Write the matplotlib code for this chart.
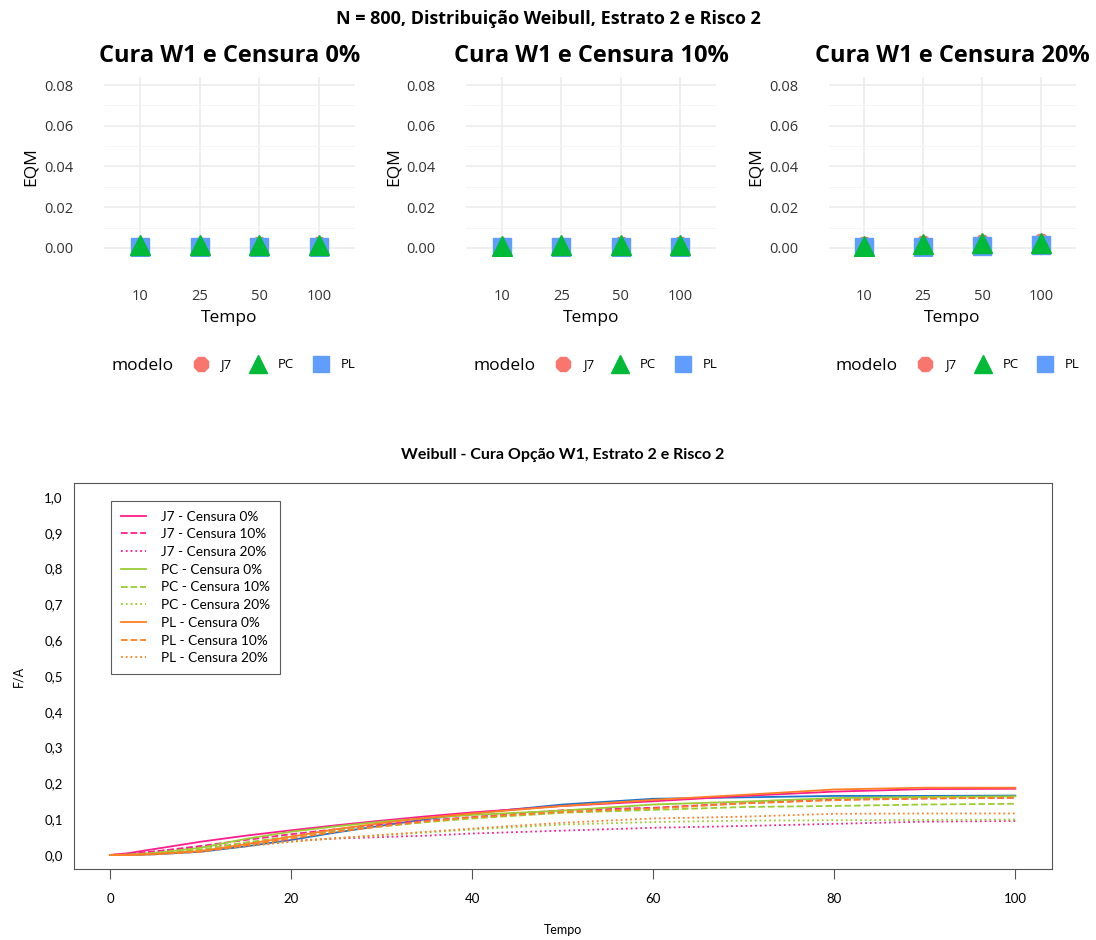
import numpy as np
import matplotlib.pyplot as plt
from matplotlib.lines import Line2D

# ------------------------------------------------------
# Data: EQM por tempo (painéis superiores)
# ------------------------------------------------------
tempos_cat = ["10", "25", "50", "100"]
modelos = ["J7", "PC", "PL"]
censuras = ["0%", "10%", "20%"]

eqm_j7 = [[0.0008, 0.0010, 0.0012, 0.0014],
          [0.0008, 0.0011, 0.0013, 0.0015],
          [0.0012, 0.0018, 0.0024, 0.0030]]
eqm_pc = [[0.0012, 0.0014, 0.0013, 0.0015],
          [0.0010, 0.0013, 0.0014, 0.0016],
          [0.0011, 0.0020, 0.0022, 0.0025]]
eqm_pl = [[0.0003, 0.0004, 0.0005, 0.0006],
          [0.0003, 0.0004, 0.0005, 0.0006],
          [0.0004, 0.0006, 0.0009, 0.0012]]

# ------------------------------------------------------
# Data: F/A ao longo do tempo (painel inferior)
# ------------------------------------------------------
tempo = [0, 2, 5, 10, 15, 20, 25, 30, 35, 40, 50, 60, 70, 80, 90, 100]

j7_c0 = [0, 0.005, 0.017, 0.037, 0.054, 0.069, 0.083, 0.096, 0.108, 0.119, 0.137, 0.150, 0.165, 0.177, 0.184, 0.185]
j7_c10 = [0, 0.002, 0.010, 0.025, 0.042, 0.058, 0.072, 0.085, 0.096, 0.106, 0.125, 0.132, 0.145, 0.155, 0.158, 0.160]
j7_c20 = [0, 0.003, 0.010, 0.022, 0.032, 0.040, 0.046, 0.050, 0.054, 0.060, 0.068, 0.076, 0.081, 0.087, 0.093, 0.095]
pc_c0 = [0, 0.001, 0.006, 0.020, 0.045, 0.065, 0.080, 0.093, 0.103, 0.112, 0.124, 0.141, 0.149, 0.159, 0.162, 0.164]
pc_c10 = [0, 0.000, 0.004, 0.015, 0.035, 0.052, 0.068, 0.080, 0.092, 0.102, 0.118, 0.126, 0.134, 0.137, 0.141, 0.143]
pc_c20 = [0, 0.001, 0.004, 0.013, 0.026, 0.038, 0.047, 0.055, 0.063, 0.071, 0.085, 0.092, 0.096, 0.097, 0.098, 0.099]
pl_c0 = [0, 0.000, 0.003, 0.011, 0.030, 0.051, 0.072, 0.089, 0.104, 0.116, 0.137, 0.154, 0.168, 0.183, 0.188, 0.188]
pl_c10 = [0, 0.000, 0.002, 0.009, 0.027, 0.046, 0.065, 0.080, 0.094, 0.105, 0.120, 0.130, 0.144, 0.153, 0.158, 0.160]
pl_c20 = [0, 0.000, 0.002, 0.010, 0.024, 0.037, 0.047, 0.056, 0.065, 0.074, 0.090, 0.102, 0.107, 0.115, 0.116, 0.116]
real = [0, 0.000, 0.002, 0.009, 0.024, 0.042, 0.063, 0.082, 0.100, 0.116, 0.141, 0.157, 0.161, 0.165, 0.165, 0.166]

W, H = 1096, 940
fig = plt.figure(figsize=(W / 100, H / 100), dpi=100)


def box(l, r, t, b):
    return [l / W, 1 - b / H, (r - l) / W, (b - t) / H]


def ftext(x, y, s, **kw):
    fig.text(x / W, 1 - y / H, s, **kw)


TOP_FONT = "Open Sans"
BOT_FONT = "Lato"
cols = {"J7": "#F8766D", "PC": "#00BA38", "PL": "#619CFF"}
marks = {"J7": ("8", 13), "PC": ("^", 15), "PL": ("s", 13)}

ftext(548, 19, "N = 800, Distribuição Weibull, Estrato 2 e Risco 2",
      family=TOP_FONT, weight="bold", fontsize=13, ha="center", va="center")

panels = [(104.2, 354.8), (466.4, 715.6), (828.6, 1076.4)]
x = np.arange(1, len(tempos_cat) + 1)
for i, (l, r) in enumerate(panels):
    ax = fig.add_axes(box(l, r, 77, 256))
    for s in ax.spines.values():
        s.set_visible(False)
    ax.set_xlim(0.4, 4.6)
    ax.set_ylim(-0.004, 0.084)
    ax.set_yticks([0, 0.02, 0.04, 0.06, 0.08])
    ax.set_yticks([0.01, 0.03, 0.05, 0.07], minor=True)
    ax.set_yticklabels(["0.00", "0.02", "0.04", "0.06", "0.08"])
    ax.set_xticks(x)
    ax.set_xticklabels(tempos_cat)
    ax.grid(True, which="major", color="#EBEBEB", lw=1.1)
    ax.grid(True, which="minor", axis="y", color="#F5F5F5", lw=0.6)
    ax.set_axisbelow(True)
    ax.tick_params(which="both", length=0, labelsize=10.5, colors="#333333")
    ax.tick_params(axis="x", pad=24)
    ax.tick_params(axis="y", pad=22)
    for lab in ax.get_xticklabels() + ax.get_yticklabels():
        lab.set_family(TOP_FONT)
    data = {"J7": eqm_j7[i], "PC": eqm_pc[i], "PL": eqm_pl[i]}
    for m in ["J7", "PL", "PC"]:
        mk, ms = marks[m]
        ax.plot(x, data[m], ls="none", marker=mk, ms=ms, color=cols[m], zorder=3)
    ax.set_xlabel("Tempo", family=TOP_FONT, fontsize=12.5, labelpad=4)
    ax.set_ylabel("EQM", family=TOP_FONT, fontsize=12.5, labelpad=0)
    ax.yaxis.set_label_coords(-0.26, 0.5)
    ftext((l + r) / 2, 56, "Cura W1 e Censura " + censuras[i], family=TOP_FONT,
          weight="bold", fontsize=17, ha="center", va="center")
    # legenda horizontal
    ftext(l + 7, 366, "modelo", family=TOP_FONT, fontsize=12.5, va="center")
    handles = [Line2D([], [], ls="none", marker=marks[m][0], ms=marks[m][1] - 2,
                      color=cols[m]) for m in modelos]
    fig.legend(handles, modelos, loc="center left", ncol=3, frameon=False,
               bbox_to_anchor=((l + 82) / W, 1 - 365 / H), borderaxespad=0,
               prop={"family": TOP_FONT, "size": 9.5},
               handletextpad=0.8, columnspacing=1.3, handlelength=1.4)

# ------------------------------------------------------
# Painel inferior
# ------------------------------------------------------
ax = fig.add_axes(box(73.8, 1051.5, 482.7, 869.3))
ax.set_xlim(-4, 104)
ax.set_ylim(-0.04, 1.04)
pink, green, orange, blue = "#FF1C8D", "#9ACD32", "#FF7F24", "#1874CD"
series = [
    (j7_c0, pink, "-", "J7 - Censura 0%"),
    (j7_c10, pink, "--", "J7 - Censura 10%"),
    (j7_c20, pink, ":", "J7 - Censura 20%"),
    (pc_c0, green, "-", "PC - Censura 0%"),
    (pc_c10, green, "--", "PC - Censura 10%"),
    (pc_c20, green, ":", "PC - Censura 20%"),
    (pl_c0, orange, "-", "PL - Censura 0%"),
    (pl_c10, orange, "--", "PL - Censura 10%"),
    (pl_c20, orange, ":", "PL - Censura 20%"),
]
ax.plot(tempo, real, color=blue, lw=1.3)
for y, c, ls, lab in series:
    ax.plot(tempo, y, color=c, ls=ls, lw=1.3, label=lab)

ax.set_xticks([0, 20, 40, 60, 80, 100])
ax.set_yticks(np.arange(0, 1.01, 0.1))
ax.set_yticklabels([f"{v:.1f}".replace(".", ",") for v in np.arange(0, 1.01, 0.1)])
ax.tick_params(axis="y", length=0, pad=8)
ax.tick_params(axis="x", length=7, pad=10, color="#555555")
ax.tick_params(labelsize=9.5)
for lab in ax.get_xticklabels() + ax.get_yticklabels():
    lab.set_family(BOT_FONT)
for s in ax.spines.values():
    s.set_color("#555555")
ax.set_xlabel("Tempo", family=BOT_FONT, fontsize=9, labelpad=14)
ax.set_ylabel("F/A", family=BOT_FONT, fontsize=9, labelpad=14)
ax.set_title("Weibull - Cura Opção W1, Estrato 2 e Risco 2", family=BOT_FONT,
             weight="bold", fontsize=11.5, pad=17)
leg = ax.legend(loc="upper left", bbox_to_anchor=((111 - 73.8) / (1051.5 - 73.8),
                                                  1 - (501 - 482.7) / (869.3 - 482.7)),
                borderaxespad=0,
                prop={"family": BOT_FONT, "size": 9.8}, fancybox=False,
                edgecolor="#333333", handlelength=1.9, labelspacing=0.42,
                borderpad=0.7, handletextpad=1.1)
leg.get_frame().set_linewidth(0.8)

fig.savefig("out.png", dpi=100)
